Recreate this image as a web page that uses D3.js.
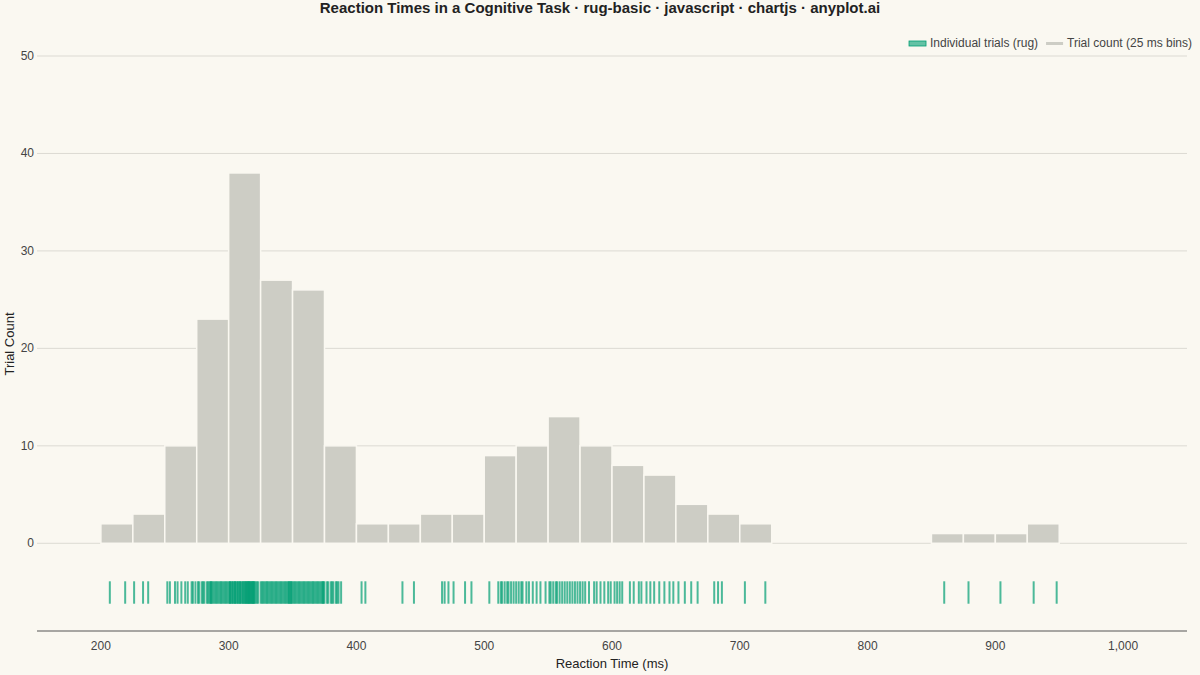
<!DOCTYPE html>
<html><head><meta charset="utf-8">
<script src="https://cdn.jsdelivr.net/npm/d3@7"></script>
<style>body{margin:0;background:#faf8f1;}svg{display:block;font-family:"Liberation Sans",Arial,sans-serif;}</style>
</head><body><svg id="c" width="1200" height="675"></svg>
<script>
const title = "Reaction Times in a Cognitive Task · rug-basic · javascript · chartjs · anyplot.ai";
const xTicks = [200,300,400,500,600,700,800,900,1000];
const yTicks = [0,10,20,30,40,50];
const binWidth = 25;
const reactionTimes = [
207,219,
226,233,237,
252,254,258,260,263,266,268,271,272,274,
276,277,279,280,281,283,284,285,286,286,287,288,289,290,291,292,293,294,295,296,297,298,299,
300,301,301,302,303,303,304,305,305,306,307,307,308,309,309,310,311,311,312,313,313,314,314,315,315,316,316,317,317,318,318,319,319,320,320,321,322,323,
325,326,327,328,329,330,331,332,333,334,335,336,337,338,339,340,341,342,343,344,345,346,347,347,348,349,349,
350,351,352,353,354,355,356,357,358,359,360,361,362,363,364,365,366,367,368,369,370,371,372,373,374,374,
375,377,378,380,381,382,384,385,386,388,
404,407,
436,445,
467,469,472,
476,485,490,
504,511,513,514,516,518,519,521,523,
525,527,529,530,533,535,538,541,544,548,
551,552,554,556,557,559,561,563,565,567,569,571,573,
575,577,579,582,586,588,591,594,597,599,
602,604,606,608,614,617,621,623,
627,630,633,637,641,645,648,
652,657,662,667,
680,683,686,
704,720,
860,879,904,930,948
];

const svg=d3.select("#c");
const x=d3.scaleLinear().domain([150,1050]).range([37,1187]);
const y=d3.scaleLinear().domain([-9,50]).range([631,56]);
const bins=d3.bin().domain([200,1000]).thresholds(d3.range(200,1000,binWidth))(reactionTimes);

svg.append("text").attr("x",600).attr("y",13).attr("text-anchor","middle").attr("font-size",15).attr("font-weight","bold").attr("fill","#222").text(title);

svg.append("g").selectAll("line").data(yTicks).join("line")
 .attr("x1",37).attr("x2",1187).attr("y1",d=>y(d)).attr("y2",d=>y(d)).attr("stroke","#dcdad3").attr("stroke-width",1);
svg.append("g").selectAll("text").data(yTicks).join("text")
 .attr("x",34).attr("y",d=>y(d)+4).attr("text-anchor","end").attr("font-size",12).attr("fill","#444").text(d=>d);

svg.append("g").selectAll("rect").data(bins).join("rect")
 .attr("x",d=>x(d.x0)).attr("width",d=>x(d.x1)-x(d.x0))
 .attr("y",d=>y(d.length)).attr("height",d=>y(0)-y(d.length))
 .attr("fill","#cdcdc5").attr("stroke","#faf8f1").attr("stroke-width",1.5);

svg.append("g").selectAll("line").data(reactionTimes).join("line")
 .attr("x1",d=>x(d)).attr("x2",d=>x(d)).attr("y1",y(-3.9)).attr("y2",y(-6.2))
 .attr("stroke","#009E73").attr("stroke-opacity",0.7).attr("stroke-width",2);

svg.append("line").attr("x1",37).attr("x2",1187).attr("y1",631).attr("y2",631).attr("stroke","#555");
svg.append("g").selectAll("text").data(xTicks).join("text")
 .attr("x",d=>x(d)).attr("y",650).attr("text-anchor","middle").attr("font-size",12).attr("fill","#444").text(d=>d3.format(",")(d));
svg.append("text").attr("x",612).attr("y",668).attr("text-anchor","middle").attr("font-size",13).attr("fill","#222").text("Reaction Time (ms)");
svg.append("text").attr("transform","translate(14,344) rotate(-90)").attr("text-anchor","middle").attr("font-size",13).attr("fill","#222").text("Trial Count");

const lg=svg.append("g");
const t2=lg.append("text").attr("x",1192).attr("y",47).attr("text-anchor","end").attr("font-size",12).attr("fill","#444").text("Trial count (25 ms bins)");
const w2=t2.node().getComputedTextLength();
const s2=1192-w2-4-17;
lg.append("rect").attr("x",s2).attr("y",42).attr("width",17).attr("height",3).attr("fill","#cdcdc5");
const e1=s2-8;
const t1=lg.append("text").attr("x",e1).attr("y",47).attr("text-anchor","end").attr("font-size",12).attr("fill","#444").text("Individual trials (rug)");
const w1=t1.node().getComputedTextLength();
lg.append("rect").attr("x",e1-w1-4-17).attr("y",41).attr("width",17).attr("height",5).attr("fill","#009E73").attr("fill-opacity",0.6).attr("stroke","#009E73").attr("stroke-width",0.8);
</script></body></html>
